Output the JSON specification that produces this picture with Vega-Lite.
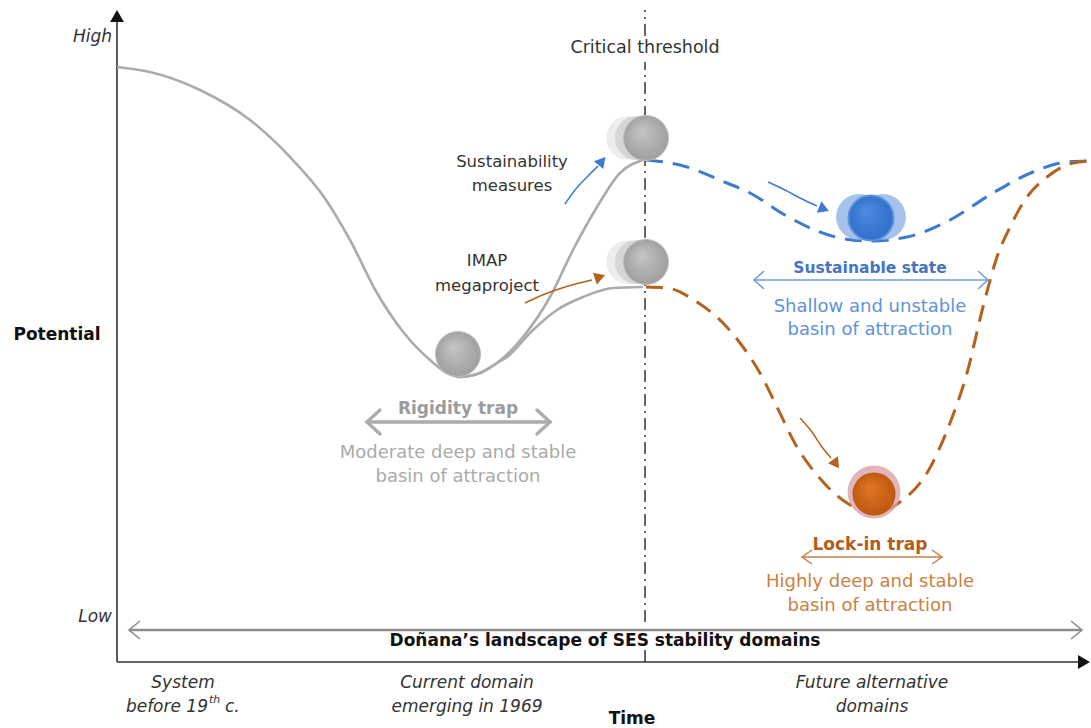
{
  "$schema": "https://vega.github.io/schema/vega-lite/v6.json",
  "width": 1091,
  "height": 728,
  "autosize": "none",
  "padding": 0,
  "background": "white",
  "config": {"view": {"stroke": null}, "font": "DejaVu Sans"},
  "encoding": {
    "x": {"field": "x", "type": "quantitative", "scale": {"domain": [-117, 974], "nice": false, "zero": false}, "axis": null},
    "y": {"field": "y", "type": "quantitative", "scale": {"domain": [-66, 662], "nice": false, "zero": false}, "axis": null}
  },
  "layer": [
    {
      "data": {"values": [{"x": 0, "y": 0, "y2": 642}]},
      "mark": {"type": "rule", "color": "#333333", "strokeWidth": 1.6},
      "encoding": {"y2": {"field": "y2"}}
    },
    {
      "data": {"values": [{"x": 0, "x2": 966, "y": 0}]},
      "mark": {"type": "rule", "color": "#333333", "strokeWidth": 1.6},
      "encoding": {"x2": {"field": "x2"}}
    },
    {
      "data": {"values": [{"x": 0, "y": 646, "a": 0}, {"x": 967, "y": 0, "a": 90}]},
      "mark": {"type": "point", "shape": "triangle-up", "filled": true, "size": 190, "color": "#111111", "opacity": 1},
      "encoding": {"angle": {"field": "a", "type": "quantitative", "scale": null}}
    },
    {
      "data": {"values": [{"x": 528, "y": 626, "y2": 652}, {"x": 528, "y": 40, "y2": 600}, {"x": 528, "y": 0, "y2": 14}]},
      "mark": {"type": "rule", "color": "#333333", "strokeWidth": 1.5, "strokeDash": [12, 5, 2, 5]},
      "encoding": {"y2": {"field": "y2"}}
    },
    {
      "data": {"values": [
        {"id": "u", "o": 0, "x": 0, "y": 595}, {"id": "u", "o": 1, "x": 33, "y": 590}, {"id": "u", "o": 2, "x": 83, "y": 572},
        {"id": "u", "o": 3, "x": 133, "y": 542}, {"id": "u", "o": 4, "x": 173, "y": 505}, {"id": "u", "o": 5, "x": 207, "y": 465},
        {"id": "u", "o": 6, "x": 233, "y": 422}, {"id": "u", "o": 7, "x": 260, "y": 369}, {"id": "u", "o": 8, "x": 287, "y": 329},
        {"id": "u", "o": 9, "x": 313, "y": 302}, {"id": "u", "o": 10, "x": 330, "y": 289}, {"id": "u", "o": 11, "x": 343, "y": 285},
        {"id": "u", "o": 12, "x": 363, "y": 289}, {"id": "u", "o": 13, "x": 380, "y": 299}, {"id": "u", "o": 14, "x": 406, "y": 325},
        {"id": "u", "o": 15, "x": 433, "y": 365}, {"id": "u", "o": 16, "x": 456, "y": 412}, {"id": "u", "o": 17, "x": 480, "y": 455},
        {"id": "u", "o": 18, "x": 503, "y": 489}, {"id": "u", "o": 19, "x": 526, "y": 502},
        {"id": "l", "o": 0, "x": 343, "y": 285}, {"id": "l", "o": 1, "x": 363, "y": 289}, {"id": "l", "o": 2, "x": 380, "y": 299},
        {"id": "l", "o": 3, "x": 390, "y": 305}, {"id": "l", "o": 4, "x": 416, "y": 332}, {"id": "l", "o": 5, "x": 440, "y": 352},
        {"id": "l", "o": 6, "x": 466, "y": 365}, {"id": "l", "o": 7, "x": 496, "y": 374}, {"id": "l", "o": 8, "x": 526, "y": 375}
      ]},
      "mark": {"type": "line", "interpolate": "monotone", "color": "#ababab", "strokeWidth": 2.6},
      "encoding": {"detail": {"field": "id"}, "order": {"field": "o"}}
    },
    {
      "data": {"values": [
        {"o": 0, "x": 529, "y": 502}, {"o": 1, "x": 563, "y": 497}, {"o": 2, "x": 610, "y": 479}, {"o": 3, "x": 633, "y": 469},
        {"o": 4, "x": 668, "y": 447}, {"o": 5, "x": 698, "y": 432}, {"o": 6, "x": 723, "y": 424}, {"o": 7, "x": 753, "y": 421},
        {"o": 8, "x": 790, "y": 425}, {"o": 9, "x": 833, "y": 442}, {"o": 10, "x": 876, "y": 469}, {"o": 11, "x": 916, "y": 490},
        {"o": 12, "x": 950, "y": 500}, {"o": 13, "x": 974, "y": 501}
      ]},
      "mark": {"type": "line", "interpolate": "monotone", "color": "#3d7bd2", "strokeWidth": 3, "strokeDash": [17, 10]},
      "encoding": {"order": {"field": "o"}}
    },
    {
      "data": {"values": [
        {"o": 0, "x": 529, "y": 375}, {"o": 1, "x": 550, "y": 374}, {"o": 2, "x": 580, "y": 360}, {"o": 3, "x": 606, "y": 339},
        {"o": 4, "x": 626, "y": 315}, {"o": 5, "x": 643, "y": 289}, {"o": 6, "x": 660, "y": 255}, {"o": 7, "x": 680, "y": 215},
        {"o": 8, "x": 700, "y": 187}, {"o": 9, "x": 730, "y": 159}, {"o": 10, "x": 757, "y": 149}, {"o": 11, "x": 783, "y": 160},
        {"o": 12, "x": 810, "y": 189}, {"o": 13, "x": 833, "y": 239}, {"o": 14, "x": 850, "y": 289}, {"o": 15, "x": 866, "y": 355},
        {"o": 16, "x": 880, "y": 405}, {"o": 17, "x": 893, "y": 435}, {"o": 18, "x": 910, "y": 465}, {"o": 19, "x": 930, "y": 485},
        {"o": 20, "x": 956, "y": 499}, {"o": 21, "x": 974, "y": 501}
      ]},
      "mark": {"type": "line", "interpolate": "monotone", "color": "#b5611f", "strokeWidth": 3, "strokeDash": [17, 10]},
      "encoding": {"order": {"field": "o"}}
    },
    {
      "data": {"values": [
        {"id": "m", "o": 0, "x": 12, "y": 32}, {"id": "m", "o": 1, "x": 965, "y": 32}
      ]},
      "mark": {"type": "line", "color": "#8c8c8c", "strokeWidth": 2.6},
      "encoding": {"detail": {"field": "id"}, "order": {"field": "o"}}
    },
    {
      "data": {"values": [
        {"id": "l", "o": 0, "x": 23, "y": 41}, {"id": "l", "o": 1, "x": 12, "y": 32}, {"id": "l", "o": 2, "x": 23, "y": 23},
        {"id": "r", "o": 0, "x": 954, "y": 41}, {"id": "r", "o": 1, "x": 965, "y": 32}, {"id": "r", "o": 2, "x": 954, "y": 23}
      ]},
      "mark": {"type": "line", "color": "#8c8c8c", "strokeWidth": 1.6},
      "encoding": {"detail": {"field": "id"}, "order": {"field": "o"}}
    },
    {
      "data": {"values": [
        {"id": "m", "o": 0, "x": 250, "y": 240}, {"id": "m", "o": 1, "x": 433, "y": 240},
        {"id": "l", "o": 0, "x": 263, "y": 252}, {"id": "l", "o": 1, "x": 250, "y": 240}, {"id": "l", "o": 2, "x": 263, "y": 228},
        {"id": "r", "o": 0, "x": 420, "y": 252}, {"id": "r", "o": 1, "x": 433, "y": 240}, {"id": "r", "o": 2, "x": 420, "y": 228}
      ]},
      "mark": {"type": "line", "color": "#acacac", "strokeWidth": 3.4, "strokeCap": "round"},
      "encoding": {"detail": {"field": "id"}, "order": {"field": "o"}}
    },
    {
      "data": {"values": [
        {"id": "m", "o": 0, "x": 637, "y": 382}, {"id": "m", "o": 1, "x": 871, "y": 382},
        {"id": "l", "o": 0, "x": 647, "y": 391}, {"id": "l", "o": 1, "x": 637, "y": 382}, {"id": "l", "o": 2, "x": 647, "y": 373},
        {"id": "r", "o": 0, "x": 861, "y": 391}, {"id": "r", "o": 1, "x": 871, "y": 382}, {"id": "r", "o": 2, "x": 861, "y": 373}
      ]},
      "mark": {"type": "line", "color": "#6a9bdc", "strokeWidth": 1.5},
      "encoding": {"detail": {"field": "id"}, "order": {"field": "o"}}
    },
    {
      "data": {"values": [
        {"id": "m", "o": 0, "x": 685, "y": 105}, {"id": "m", "o": 1, "x": 825, "y": 105},
        {"id": "l", "o": 0, "x": 695, "y": 112}, {"id": "l", "o": 1, "x": 685, "y": 105}, {"id": "l", "o": 2, "x": 695, "y": 98},
        {"id": "r", "o": 0, "x": 815, "y": 112}, {"id": "r", "o": 1, "x": 825, "y": 105}, {"id": "r", "o": 2, "x": 815, "y": 98}
      ]},
      "mark": {"type": "line", "color": "#c47e45", "strokeWidth": 1.5},
      "encoding": {"detail": {"field": "id"}, "order": {"field": "o"}}
    },
    {
      "data": {"values": [
        {"id": "b1", "o": 0, "x": 448, "y": 458}, {"id": "b1", "o": 1, "x": 458, "y": 472}, {"id": "b1", "o": 2, "x": 471, "y": 486}, {"id": "b1", "o": 3, "x": 481, "y": 496},
        {"id": "b2", "o": 0, "x": 651, "y": 480}, {"id": "b2", "o": 1, "x": 668, "y": 472}, {"id": "b2", "o": 2, "x": 683, "y": 464}, {"id": "b2", "o": 3, "x": 700, "y": 456}
      ]},
      "mark": {"type": "line", "interpolate": "monotone", "color": "#3d7bd2", "strokeWidth": 1.5},
      "encoding": {"detail": {"field": "id"}, "order": {"field": "o"}}
    },
    {
      "data": {"values": [
        {"id": "o1", "o": 0, "x": 408, "y": 359}, {"id": "o1", "o": 1, "x": 428, "y": 368}, {"id": "o1", "o": 2, "x": 448, "y": 375}, {"id": "o1", "o": 3, "x": 475, "y": 382},
        {"id": "o2", "o": 0, "x": 683, "y": 244}, {"id": "o2", "o": 1, "x": 695, "y": 230}, {"id": "o2", "o": 2, "x": 705, "y": 215}, {"id": "o2", "o": 3, "x": 714, "y": 204}
      ]},
      "mark": {"type": "line", "interpolate": "monotone", "color": "#b5611f", "strokeWidth": 1.5},
      "encoding": {"detail": {"field": "id"}, "order": {"field": "o"}}
    },
    {
      "data": {"values": [{"x": 485, "y": 501, "a": 40}, {"x": 707, "y": 453, "a": 112}]},
      "mark": {"type": "point", "shape": "triangle-up", "filled": true, "size": 150, "color": "#3d7bd2", "opacity": 1},
      "encoding": {"angle": {"field": "a", "type": "quantitative", "scale": null}}
    },
    {
      "data": {"values": [{"x": 483, "y": 385, "a": 72}, {"x": 719, "y": 198, "a": 145}]},
      "mark": {"type": "point", "shape": "triangle-up", "filled": true, "size": 150, "color": "#b5611f", "opacity": 1},
      "encoding": {"angle": {"field": "a", "type": "quantitative", "scale": null}}
    },
    {
      "data": {"values": [{"x": 511, "y": 524}, {"x": 511, "y": 400}]},
      "mark": {"type": "point", "filled": true, "size": 1900, "color": "#ededed", "opacity": 1},
      "encoding": {}
    },
    {
      "data": {"values": [{"x": 520, "y": 524}, {"x": 520, "y": 400}]},
      "mark": {"type": "point", "filled": true, "size": 1950, "color": "#d6d6d6", "opacity": 1},
      "encoding": {}
    },
    {
      "data": {"values": [{"x": 341, "y": 308}, {"x": 529, "y": 524}, {"x": 529, "y": 400}]},
      "mark": {"type": "point", "filled": true, "size": 2025, "opacity": 1, "stroke": "#bdbdbd", "strokeWidth": 1,
        "fill": {"gradient": "radial", "x1": 0.4, "y1": 0.35, "r1": 0.05, "x2": 0.5, "y2": 0.5, "r2": 0.55,
          "stops": [{"offset": 0, "color": "#c2c2c2"}, {"offset": 1, "color": "#9c9c9c"}]}},
      "encoding": {}
    },
    {
      "data": {"values": [{"x": 742, "y": 445}, {"x": 766, "y": 445}]},
      "mark": {"type": "point", "filled": true, "size": 2100, "color": "#86ade6", "opacity": 0.75},
      "encoding": {}
    },
    {
      "data": {"values": [{"x": 754, "y": 444}]},
      "mark": {"type": "point", "filled": true, "size": 2025, "opacity": 1, "stroke": "#5d91dc", "strokeWidth": 2,
        "fill": {"gradient": "radial", "x1": 0.4, "y1": 0.35, "r1": 0.05, "x2": 0.5, "y2": 0.5, "r2": 0.55,
          "stops": [{"offset": 0, "color": "#4a8ae0"}, {"offset": 1, "color": "#2f6cc8"}]}},
      "encoding": {}
    },
    {
      "data": {"values": [{"x": 757, "y": 170}]},
      "mark": {"type": "point", "filled": true, "size": 2800, "color": "#d9a2a8", "opacity": 0.8},
      "encoding": {}
    },
    {
      "data": {"values": [{"x": 757, "y": 168}]},
      "mark": {"type": "point", "filled": true, "size": 1850, "opacity": 1,
        "fill": {"gradient": "radial", "x1": 0.4, "y1": 0.35, "r1": 0.05, "x2": 0.5, "y2": 0.5, "r2": 0.55,
          "stops": [{"offset": 0, "color": "#de7424"}, {"offset": 1, "color": "#b9560f"}]}},
      "encoding": {}
    },
    {
      "data": {"values": [{"x": 528, "y": 614, "t": "Critical threshold"}]},
      "mark": {"type": "text", "fontSize": 17.5, "color": "#333333", "align": "center", "baseline": "middle"},
      "encoding": {"text": {"field": "t"}}
    },
    {
      "data": {"values": [
        {"x": 395, "y": 500, "t": "Sustainability"}, {"x": 395, "y": 476, "t": "measures"},
        {"x": 370, "y": 401, "t": "IMAP"}, {"x": 370, "y": 376, "t": "megaproject"}
      ]},
      "mark": {"type": "text", "fontSize": 16.5, "color": "#333333", "align": "center", "baseline": "middle"},
      "encoding": {"text": {"field": "t"}}
    },
    {
      "data": {"values": [
        {"x": 66, "y": -21, "t": "System"},
        {"x": 350, "y": -21, "t": "Current domain"}, {"x": 350, "y": -45, "t": "emerging in 1969"},
        {"x": 755, "y": -21, "t": "Future alternative"}, {"x": 755, "y": -45, "t": "domains"}
      ]},
      "mark": {"type": "text", "fontSize": 17, "fontStyle": "italic", "color": "#333333", "align": "center", "baseline": "middle"},
      "encoding": {"text": {"field": "t"}}
    },
    {
      "data": {"values": [{"x": 91, "y": -45, "t": "before 19"}, {"x": -5, "y": 625, "t": "High"}, {"x": -5, "y": 45, "t": "Low"}]},
      "mark": {"type": "text", "fontSize": 17, "fontStyle": "italic", "color": "#333333", "align": "right", "baseline": "middle"},
      "encoding": {"text": {"field": "t"}}
    },
    {
      "data": {"values": [{"x": 92, "y": -38, "t": "th"}]},
      "mark": {"type": "text", "fontSize": 11, "fontStyle": "italic", "color": "#333333", "align": "left", "baseline": "middle"},
      "encoding": {"text": {"field": "t"}}
    },
    {
      "data": {"values": [{"x": 108, "y": -45, "t": "c."}]},
      "mark": {"type": "text", "fontSize": 17, "fontStyle": "italic", "color": "#333333", "align": "left", "baseline": "middle"},
      "encoding": {"text": {"field": "t"}}
    },
    {
      "data": {"values": [
        {"x": -60, "y": 327, "t": "Potential"}, {"x": 515, "y": -57, "t": "Time"},
        {"x": 488, "y": 21, "t": "Doñana’s landscape of SES stability domains"}
      ]},
      "mark": {"type": "text", "fontSize": 17, "fontWeight": "bold", "color": "#111111", "align": "center", "baseline": "middle"},
      "encoding": {"text": {"field": "t"}}
    },
    {
      "data": {"values": [{"x": 341, "y": 253, "t": "Rigidity trap"}]},
      "mark": {"type": "text", "fontSize": 17, "fontWeight": "bold", "color": "#9b9b9b", "align": "center", "baseline": "middle"},
      "encoding": {"text": {"field": "t"}}
    },
    {
      "data": {"values": [{"x": 341, "y": 209, "t": "Moderate deep and stable"}, {"x": 341, "y": 185, "t": "basin of attraction"}]},
      "mark": {"type": "text", "fontSize": 18, "color": "#aaaaaa", "align": "center", "baseline": "middle"},
      "encoding": {"text": {"field": "t"}}
    },
    {
      "data": {"values": [{"x": 753, "y": 394, "t": "Sustainable state"}]},
      "mark": {"type": "text", "fontSize": 15.5, "fontWeight": "bold", "color": "#4474c2", "align": "center", "baseline": "middle"},
      "encoding": {"text": {"field": "t"}}
    },
    {
      "data": {"values": [{"x": 753, "y": 355, "t": "Shallow and unstable"}, {"x": 753, "y": 332, "t": "basin of attraction"}]},
      "mark": {"type": "text", "fontSize": 18, "color": "#5e93da", "align": "center", "baseline": "middle"},
      "encoding": {"text": {"field": "t"}}
    },
    {
      "data": {"values": [{"x": 753, "y": 117, "t": "Lock-in trap"}]},
      "mark": {"type": "text", "fontSize": 17, "fontWeight": "bold", "color": "#b35c1e", "align": "center", "baseline": "middle"},
      "encoding": {"text": {"field": "t"}}
    },
    {
      "data": {"values": [{"x": 753, "y": 80, "t": "Highly deep and stable"}, {"x": 753, "y": 56, "t": "basin of attraction"}]},
      "mark": {"type": "text", "fontSize": 18, "color": "#c9813f", "align": "center", "baseline": "middle"},
      "encoding": {"text": {"field": "t"}}
    }
  ]
}
